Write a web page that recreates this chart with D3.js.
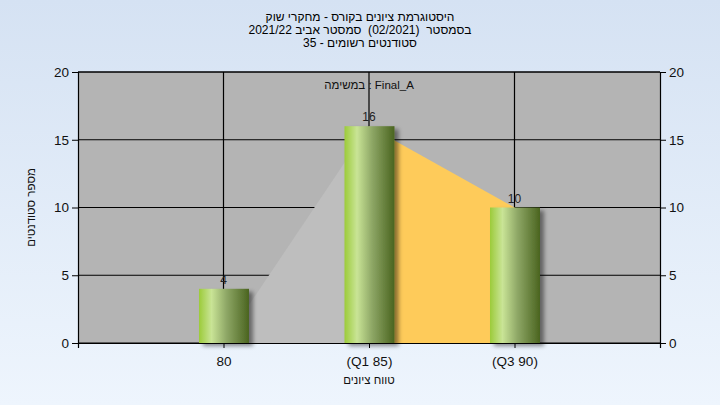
<!DOCTYPE html>
<html><head><meta charset="utf-8">
<script src="https://cdn.jsdelivr.net/npm/d3@7"></script>
<style>html,body{margin:0;padding:0;}svg{display:block;}text{white-space:pre;}</style>
</head><body>
<script>
const titleLines = ["היסטוגרמת ציונים בקורס - מחקרי שוק", "בסמסטר  (02/2021)  סמסטר אביב 2021/22", "סטודנטים רשומים - 35"];
const categories = [80, 85, 90];
const tickLabels = ["80", "(Q1 85)", "(Q3 90)"];
const counts = [4, 16, 10];
const grayArea = [[80, 0], [85, 16]];
const quartileArea = [[85, 16], [90, 10]];
const yTicks = [0, 5, 10, 15, 20];
const subtitle = "במשימה : Final_A";
const xTitle = "טווח ציונים";
const yTitle = "מספר סטודנטים";

const W = 720, H = 405;
const m = {l: 78, r: 60, t: 72, b: 62};
const svg = d3.select("body").append("svg").attr("width", W).attr("height", H);
const defs = svg.append("defs");
const bg = defs.append("linearGradient").attr("id", "bg").attr("x1", 0).attr("y1", 0).attr("x2", 0).attr("y2", 1);
bg.append("stop").attr("offset", "0%").attr("stop-color", "#d5e2f3");
bg.append("stop").attr("offset", "100%").attr("stop-color", "#eef5fd");
const bar = defs.append("linearGradient").attr("id", "bar").attr("x1", 0).attr("y1", 0).attr("x2", 1).attr("y2", 0);
[["0%", "#9ccb3a"], ["25%", "#c9e496"], ["55%", "#8ea766"], ["100%", "#4a641f"]].forEach(s =>
  bar.append("stop").attr("offset", s[0]).attr("stop-color", s[1]));
const f = defs.append("filter").attr("id", "sh").attr("x", "-20%").attr("y", "-20%").attr("width", "150%").attr("height", "150%");
f.append("feDropShadow").attr("dx", 4).attr("dy", 3).attr("stdDeviation", 2).attr("flood-color", "#000").attr("flood-opacity", 0.45);

svg.append("rect").attr("width", W).attr("height", H).attr("fill", "url(#bg)");

const x = d3.scaleLinear().domain([75, 95]).range([m.l, W - m.r]);
const y = d3.scaleLinear().domain([0, 20]).range([H - m.b, m.t]);
const font = "'Liberation Sans', Arial, sans-serif";

svg.append("rect").attr("x", x(75)).attr("y", y(20)).attr("width", x(95) - x(75)).attr("height", y(0) - y(20)).attr("fill", "#b4b4b4");

const g = svg.append("g");
g.selectAll(".hg").data(yTicks).join("line").attr("x1", x(75)).attr("x2", x(95)).attr("y1", d => y(d)).attr("y2", d => y(d)).attr("stroke", "#000").attr("stroke-width", 1.2);
g.selectAll(".vg").data(categories).join("line").attr("y1", y(0)).attr("y2", y(20)).attr("x1", d => x(d)).attr("x2", d => x(d)).attr("stroke", "#000").attr("stroke-width", 1.2);

const area = d3.area().x(d => x(d[0])).y0(y(0)).y1(d => y(d[1]));
svg.append("path").datum(grayArea).attr("d", area).attr("fill", "#bebebe");
svg.append("path").datum(quartileArea).attr("d", area).attr("fill", "#fecb5a");

const bw = 50;
svg.selectAll(".bar").data(categories).join("rect")
  .attr("x", d => x(d) - bw / 2 + 0.5).attr("width", bw)
  .attr("y", (d, i) => y(counts[i])).attr("height", (d, i) => y(0) - y(counts[i]))
  .attr("fill", "url(#bar)").attr("filter", "url(#sh)");

const yl = d3.axisLeft(y).tickValues(yTicks).tickSize(6).tickPadding(3);
const yr = d3.axisRight(y).tickValues(yTicks).tickSize(6).tickPadding(3);
const xb = d3.axisBottom(x).tickValues(categories).tickSize(5).tickPadding(8).tickFormat((d, i) => tickLabels[i]);
function style(sel) {
  sel.select(".domain").attr("stroke", "#000").attr("stroke-width", 1.2);
  sel.selectAll(".tick line").attr("stroke", "#000");
  sel.selectAll("text").attr("font-family", font).attr("font-size", 13.5).attr("fill", "#111");
}
svg.append("g").attr("transform", `translate(${x(75)},0)`).call(yl).call(style);
svg.append("g").attr("transform", `translate(${x(95)},0)`).call(yr).call(style);
svg.append("g").attr("transform", `translate(0,${y(0)})`).call(xb).call(style);
svg.append("line").attr("x1", x(75)).attr("x2", x(95)).attr("y1", y(20)).attr("y2", y(20)).attr("stroke", "#000").attr("stroke-width", 1.2);

svg.selectAll(".vl").data(categories).join("text")
  .attr("x", d => x(d)).attr("y", (d, i) => y(counts[i]) - 5)
  .attr("text-anchor", "middle").attr("font-family", font).attr("font-size", 12).attr("fill", "#222")
  .text((d, i) => counts[i]);

svg.selectAll(".tt").data(titleLines).join("text")
  .attr("x", 360).attr("y", (d, i) => 21 + i * 13)
  .attr("text-anchor", "middle").attr("font-family", font).attr("font-size", 12).attr("fill", "#000")
  .text(d => d);
svg.append("text").attr("x", x(85)).attr("y", 89).attr("text-anchor", "middle").attr("font-family", font).attr("font-size", 11.5).attr("fill", "#111").text(subtitle);
svg.append("text").attr("x", x(85)).attr("y", 384).attr("text-anchor", "middle").attr("font-family", font).attr("font-size", 11.5).attr("fill", "#111").text(xTitle);
svg.append("text").attr("transform", `translate(35,${(y(0) + y(20)) / 2}) rotate(-90)`).attr("text-anchor", "middle").attr("font-family", font).attr("font-size", 11.5).attr("fill", "#111").text(yTitle);
</script>
</body></html>
